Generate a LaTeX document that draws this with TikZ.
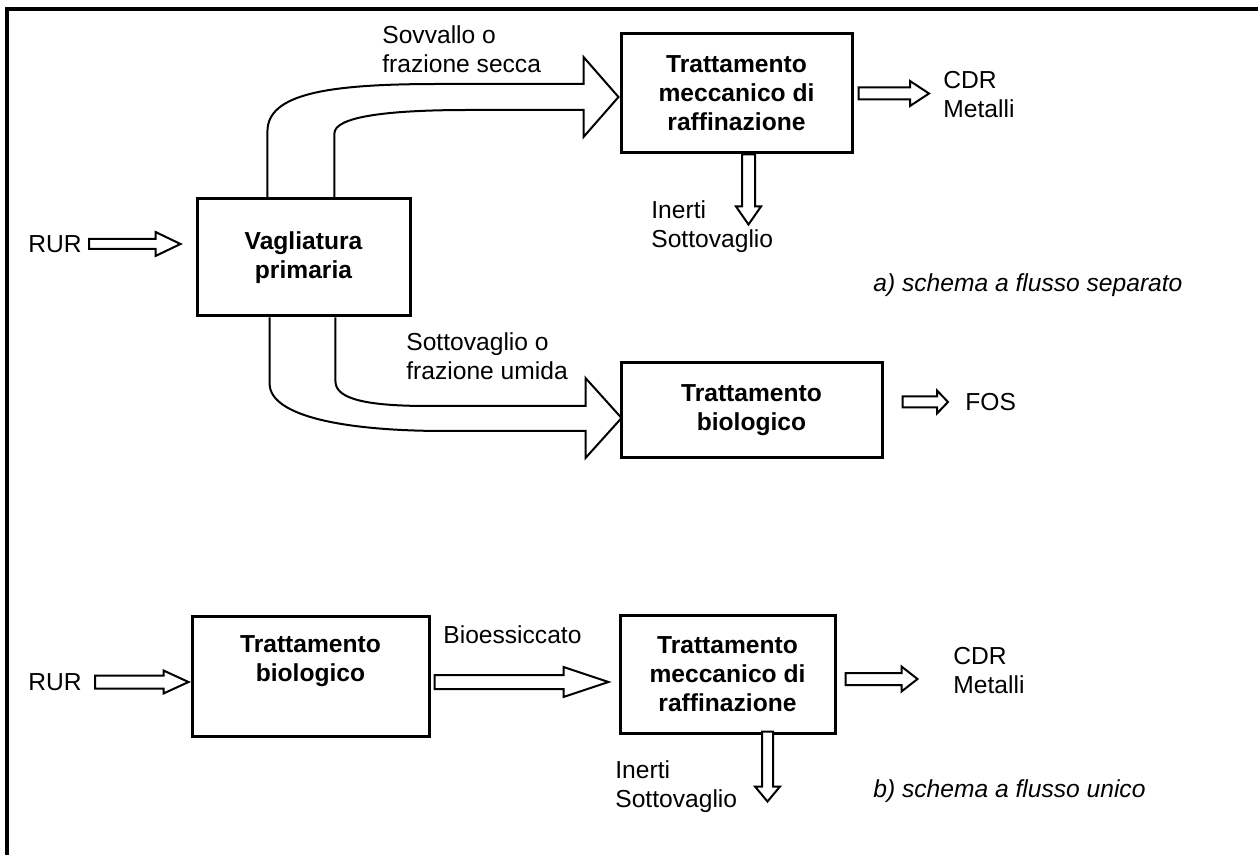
\documentclass[tikz,border=0pt]{standalone}
\usepackage{fontspec}
\setmainfont{Liberation Sans}
\usetikzlibrary{calc, positioning}

% hollow block arrows: from, to, shaft half width, head half width, head length
\newcommand{\blockh}[5]{%
  \draw[fat] ($(#1)+(0,#3)$) -- ($(#2)+(-#5,#3)$) -- ($(#2)+(-#5,#4)$) -- (#2)
    -- ($(#2)+(-#5,-#4)$) -- ($(#2)+(-#5,-#3)$) -- ($(#1)+(0,-#3)$) -- cycle;}
\newcommand{\blockv}[5]{%
  \draw[fat] ($(#1)+(-#3,0)$) -- ($(#2)+(-#3,-#5)$) -- ($(#2)+(-#4,-#5)$) -- (#2)
    -- ($(#2)+(#4,-#5)$) -- ($(#2)+(#3,-#5)$) -- ($(#1)+(#3,0)$) -- cycle;}

\begin{document}
\begin{tikzpicture}[
    x=0.5pt, y=-0.5pt,
    font=\fontsize{12.3}{14.5}\selectfont,
    box/.style={rectangle, draw=black, line width=1.5pt, align=center, inner sep=0pt, font=\fontsize{12.3}{14.5}\selectfont\bfseries},
    lbl/.style={inner sep=0pt, align=left, anchor=west},
    note/.style={lbl, font=\fontsize{12.3}{14.5}\selectfont\itshape},
    fat/.style={draw=black, line width=1pt, fill=white, line join=miter},
    flow/.style={draw=black, line width=1pt, line join=miter}
]
\useasboundingbox (0,0) rectangle (1258,855);
\draw[line width=1.75pt] (7,855) -- (7,9) -- (1258,9);

% Nodes - a) schema a flusso separato
\node (vag) [box, minimum width=106.5pt, minimum height=58.5pt] at (303.5,257.5) {Vagliatura\\primaria};
\node (tm1) [box, minimum width=115.5pt, minimum height=59.5pt] at (736.5,93.5) {Trattamento\\meccanico di\\raffinazione};
\node (bio1) [box, minimum width=130.5pt, minimum height=47.5pt] at (751.5,410.5) {Trattamento\\biologico};

\node (rur1) [lbl] at (28,244) {RUR};
\node (sov) [lbl] at (382,49) {Sovvallo o\\frazione secca};
\node (cdr1) [lbl] at (943,95) {CDR\\Metalli};
\node (inerti1) [lbl] at (651,227) {Inerti\\Sottovaglio};
\node (sot) [lbl] at (406,356) {Sottovaglio o\\frazione umida};
\node (fos) [lbl] at (965,402) {FOS};
\node (schemaA) [note] at (873,285) {a) schema a flusso separato};

% Nodes - b) schema a flusso unico
\node (bio2) [box, anchor=north, minimum width=118.5pt, text height=32.5pt, text depth=27.5pt] at (310.5,615) {Trattamento\\biologico};
\node (tm2) [box, minimum width=107.5pt, minimum height=59pt] at (727.5,674) {Trattamento\\meccanico di\\raffinazione};

\node (rur2) [lbl] at (28,682) {RUR};
\node (bioess) [lbl] at (443,635) {Bioessiccato};
\node (cdr2) [lbl] at (953,671) {CDR\\Metalli};
\node (inerti2) [lbl] at (615,787) {Inerti\\Sottovaglio};
\node (schemaB) [note] at (873,791) {b) schema a flusso unico};

% Curved streams out of the screening
\coordinate (u1) at ($(vag.north west)!0.333!(vag.north east)$);
\coordinate (u2) at ($(vag.north west)!0.643!(vag.north east)$);
\coordinate (t1) at ($(tm1.west)+(-1,3.5)$);
\draw[flow] (u1) -- ++(0,-66)
  .. controls +(0,-38) and +(-110,0) .. ($(t1)+(-180,-13)$)
  -- ($(t1)+(-35,-13)$) -- ($(t1)+(-35,-40)$) -- (t1)
  -- ($(t1)+(-35,40)$) -- ($(t1)+(-35,13)$) -- ($(t1)+(-150,13)$)
  .. controls +(-80,0) and +(0,-17) .. ($(u2)+(0,-64)$) -- (u2);

\coordinate (d1) at ($(vag.south west)!0.343!(vag.south east)$);
\coordinate (d2) at ($(vag.south west)!0.648!(vag.south east)$);
\coordinate (t2) at ($(bio1.west)+(2,7.5)$);
\draw[flow] (d1) -- ++(0,66)
  .. controls +(0,33) and +(-100,0) .. ($(t2)+(-176,13)$)
  -- ($(t2)+(-36,13)$) -- ($(t2)+(-36,40)$) -- (t2)
  -- ($(t2)+(-36,-40)$) -- ($(t2)+(-36,-12)$) -- ($(t2)+(-193,-12)$)
  .. controls +(-60,0) and +(0,18) .. ($(d2)+(0,64)$) -- (d2);

% Block arrows - a)
\coordinate (r1s) at ($(rur1.east)+(7,0)$);
\coordinate (r1t) at ($(vag.west |- rur1.east)+(-15,0)$);
\blockh{r1s}{r1t}{5}{12}{25}

\coordinate (c1s) at ($(tm1.east)+(5,0)$);
\coordinate (c1t) at ($(tm1.east -| cdr1.west)+(-14,0)$);
\blockh{c1s}{c1t}{6}{12.5}{19}

\coordinate (i1s) at ($(tm1.south)+(12,0)$);
\coordinate (i1t) at ($(i1s)+(0,70)$);
\blockv{i1s}{i1t}{6.5}{12.5}{18}

\coordinate (f1s) at ($(bio1.east |- fos.west)+(19,0)$);
\coordinate (f1t) at ($(fos.west)+(-17,0)$);
\blockh{f1s}{f1t}{5.5}{11.5}{11}

% Block arrows - b)
\coordinate (r2s) at ($(rur2.east)+(13,0)$);
\coordinate (r2t) at ($(bio2.west |- rur2.east)+(-2,0)$);
\blockh{r2s}{r2t}{6.5}{11.5}{25}

\coordinate (b2s) at ($(bio2.east |- rur2.east)+(4,0)$);
\coordinate (b2t) at ($(tm2.west |- rur2.east)+(-10,0)$);
\blockh{b2s}{b2t}{7}{15}{45}

\coordinate (c2s) at ($(tm2.east)+(9,5)$);
\coordinate (c2t) at ($(c2s)+(72,0)$);
\blockh{c2s}{c2t}{6}{12.5}{16}

\coordinate (i2s) at ($(tm2.south)+(40,-3)$);
\coordinate (i2t) at ($(i2s)+(0,70)$);
\blockv{i2s}{i2t}{5.5}{12.5}{15}

\end{tikzpicture}
\end{document}
